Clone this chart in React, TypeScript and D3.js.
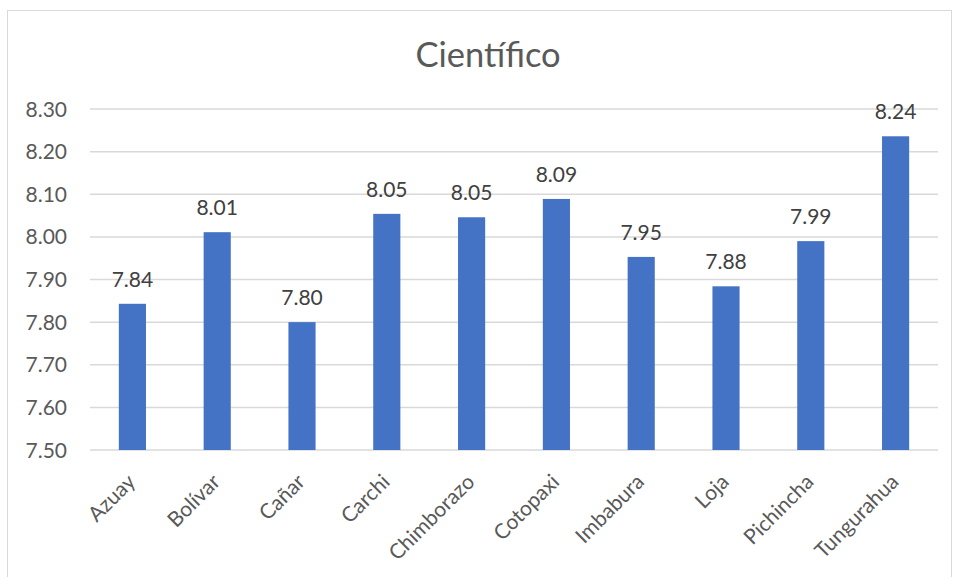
import React from "react";
import * as d3 from "d3";

const categories = ["Azuay", "Bolívar", "Cañar", "Carchi", "Chimborazo", "Cotopaxi", "Imbabura", "Loja", "Pichincha", "Tungurahua"];
const values = [7.843, 8.011, 7.8, 8.054, 8.046, 8.089, 7.953, 7.884, 7.99, 8.236];
const yTicks = [7.5, 7.6, 7.7, 7.8, 7.9, 8.0, 8.1, 8.2, 8.3];
const title = "Científico";

export default function App() {
  const W = 956, H = 577;
  const left = 90, right = 938, top = 109, bottom = 450;
  const x = d3.scaleBand<string>().domain(categories).range([left, right]).paddingInner(0.68).paddingOuter(0.34);
  const y = d3.scaleLinear().domain([7.5, 8.3]).range([bottom, top]);
  const font = "Lato, 'Open Sans', sans-serif";
  const txt = "#595959";
  return (
    <svg width={W} height={H} style={{ position: "absolute", left: 0, top: 0, background: "#fff" }}>
      <rect x={7.5} y={10.5} width={944} height={580} fill="#fff" stroke="#d9d9d9" strokeWidth={1} />
      <text x={488} y={67} textAnchor="middle" fontFamily={font} fontSize={34.5} fill={txt}>{title}</text>
      {yTicks.map((t) => (
        <g key={t}>
          <line x1={left} x2={right} y1={y(t)} y2={y(t)} stroke="#d9d9d9" strokeWidth={1.5} />
          <text x={67} y={y(t)} dy="0.36em" textAnchor="end" fontFamily={font} fontSize={21} fill={txt}>{t.toFixed(2)}</text>
        </g>
      ))}
      {categories.map((c, i) => {
        const bx = x(c)!;
        const bw = x.bandwidth();
        const cx = bx + bw / 2;
        return (
          <g key={c}>
            <rect x={bx} y={y(values[i])} width={bw} height={bottom - y(values[i])} fill="#4472C4" />
            <text x={cx} y={y(values[i]) - 17} textAnchor="middle" fontFamily={font} fontSize={21} fill="#404040">{values[i].toFixed(2)}</text>
            <text transform={`translate(${cx - 1},${478}) rotate(-45)`} textAnchor="end" dy="0.35em" fontFamily={font} fontSize={21} fill={txt}>{c}</text>
          </g>
        );
      })}
    </svg>
  );
}
